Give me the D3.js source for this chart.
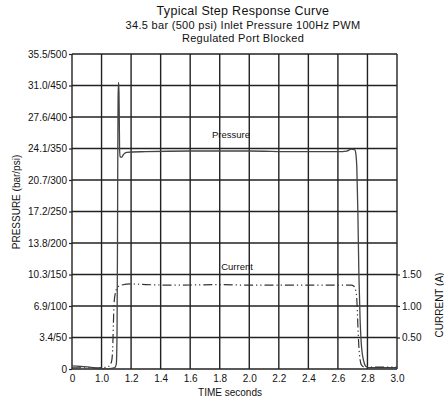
<!DOCTYPE html>
<html>
<head>
<meta charset="utf-8">
<script src="https://cdn.jsdelivr.net/npm/d3@7"></script>
<style>
  body { margin: 0; background: #fff; }
  svg { display: block; font-family: "Liberation Sans", Arial, sans-serif; }
  .tick text { fill: #111; }
</style>
</head>
<body>
<div class="svg__step"></div>
<script>
// axis ticks (x axis is broken: 0 then 1.0 .. 3.0)
const timeTicks = [0, 1.0, 1.2, 1.4, 1.6, 1.8, 2.0, 2.2, 2.4, 2.6, 2.8, 3.0]
const timeLabels = ['0', '1.0', '1.2', '1.4', '1.6', '1.8', '2.0', '2.2', '2.4', '2.6', '2.8', '3.0']
const psiTicks = [0, 50, 100, 150, 200, 250, 300, 350, 400, 450, 500]
const psiLabels = ['0', '3.4/50', '6.9/100', '10.3/150', '13.8/200', '17.2/250', '20.7/300', '24.1/350', '27.6/400', '31.0/450', '35.5/500']
const ampTicks = [0.5, 1.0, 1.5]
const ampLabels = ['0.50', '1.00', '1.50']

// pressure trace (psi)
const pressureTime = [0, 0.3, 0.6, 0.8, 0.95, 1.05, 1.09, 1.1, 1.105, 1.108, 1.11, 1.112, 1.115, 1.118, 1.12, 1.122, 1.126, 1.135, 1.15, 1.17, 1.3, 1.6, 2.0, 2.3, 2.6, 2.66, 2.69, 2.715, 2.72, 2.728, 2.735, 2.742, 2.75, 2.76, 2.775, 2.79, 2.82, 2.9, 3.0]
const pressurePsi = [5, 4, 3, 1, 0.5, 0.5, 2, 8, 60, 200, 350, 430, 455, 440, 400, 350, 337, 336, 341, 344, 345, 346, 346, 345, 345, 346, 349, 348, 344, 320, 250, 150, 80, 35, 12, 4, 2, 2, 2]

// current trace (A)
const currentTime = [0, 0.9, 1.04, 1.055, 1.068, 1.075, 1.08, 1.085, 1.095, 1.11, 1.13, 1.2, 1.3, 1.5, 1.8, 2.0, 2.3, 2.6, 2.69, 2.71, 2.72, 2.728, 2.735, 2.742, 2.75, 2.76, 2.78, 3.0]
const currentAmp = [0.02, 0.02, 0.03, 0.06, 0.12, 0.3, 0.7, 1.05, 1.22, 1.3, 1.33, 1.35, 1.34, 1.33, 1.34, 1.33, 1.33, 1.33, 1.33, 1.31, 1.25, 1.1, 0.7, 0.35, 0.15, 0.06, 0.03, 0.03]

const viewportWidth = 444,
    viewportHeight = 401
const plot = { left: 72, right: 397, top: 54, bottom: 369 }

const svg = d3.select('.svg__step')
    .append('svg')
    .attr('width', viewportWidth)
    .attr('height', viewportHeight)

// scales
const x = d3.scaleLinear()
    .domain([0, 1.0, 3.0])
    .range([plot.left, plot.left + (plot.right - plot.left) / 11, plot.right])

const y = d3.scaleLinear()
    .domain([0, 500])
    .range([plot.bottom, plot.top])

// 0.5 A lines up with every 50 psi
const yAmp = d3.scaleLinear()
    .domain([0, 5])
    .range([plot.bottom, plot.top])

// titles
const titles = [
    { text: 'Typical Step Response Curve', size: 12.5, y: 15 },
    { text: '34.5 bar (500 psi) Inlet Pressure 100Hz PWM', size: 11, y: 29 },
    { text: 'Regulated Port Blocked', size: 11, y: 42 }
]
svg.append('g')
    .selectAll('text')
    .data(titles)
    .enter()
    .append('text')
    .attr('x', 243)
    .attr('y', d => d.y)
    .attr('text-anchor', 'middle')
    .style('font-size', d => d.size + 'px')
    .style('letter-spacing', '0.3px')
    .attr('fill', '#111')
    .text(d => d.text)

// grid
const grid = svg.append('g')
    .attr('stroke', '#222')
    .attr('stroke-width', 1.4)

grid.selectAll('.vline')
    .data(timeTicks)
    .enter()
    .append('line')
    .attr('x1', d => x(d))
    .attr('x2', d => x(d))
    .attr('y1', plot.top)
    .attr('y2', plot.bottom)

grid.selectAll('.hline')
    .data(psiTicks)
    .enter()
    .append('line')
    .attr('x1', plot.left)
    .attr('x2', plot.right)
    .attr('y1', d => y(d))
    .attr('y2', d => y(d))

// axes
const styleAxis = g => {
    g.select('.domain').remove()
    g.selectAll('.tick line').attr('stroke', '#222').attr('stroke-width', 1.2)
    g.selectAll('.tick text').style('font-size', '10px')
}

svg.append('g')
    .attr('transform', `translate(${plot.left},0)`)
    .call(d3.axisLeft(y).tickValues(psiTicks).tickFormat((d, i) => psiLabels[i]).tickSize(3).tickPadding(2))
    .call(styleAxis)

svg.append('g')
    .attr('transform', `translate(0,${plot.bottom})`)
    .call(d3.axisBottom(x).tickValues(timeTicks).tickFormat((d, i) => timeLabels[i]).tickSize(0).tickPadding(6))
    .call(styleAxis)

svg.append('g')
    .attr('transform', `translate(${plot.right},0)`)
    .call(d3.axisRight(yAmp).tickValues(ampTicks).tickFormat((d, i) => ampLabels[i]).tickSize(3).tickPadding(2))
    .call(styleAxis)

// axis titles
svg.append('text')
    .attr('transform', 'translate(20,202) rotate(-90)')
    .attr('text-anchor', 'middle')
    .style('font-size', '10px')
    .attr('fill', '#111')
    .text('PRESSURE (bar/psi)')

svg.append('text')
    .attr('transform', 'translate(443,305) rotate(-90)')
    .attr('text-anchor', 'middle')
    .style('font-size', '10px')
    .attr('fill', '#111')
    .text('CURRENT (A)')

svg.append('text')
    .attr('x', 230)
    .attr('y', 396)
    .attr('text-anchor', 'middle')
    .style('font-size', '10px')
    .attr('fill', '#111')
    .text('TIME  seconds')

// curves
const pressureLine = d3.line()
    .x((d, i) => x(pressureTime[i]))
    .y(d => y(d))
    .curve(d3.curveMonotoneX)

const currentLine = d3.line()
    .x((d, i) => x(currentTime[i]))
    .y(d => yAmp(d))
    .curve(d3.curveMonotoneX)

svg.append('path')
    .datum(pressurePsi)
    .attr('d', pressureLine)
    .attr('fill', 'none')
    .attr('stroke', '#444')
    .attr('stroke-width', 1.3)

svg.append('path')
    .datum(currentAmp)
    .attr('d', currentLine)
    .attr('fill', 'none')
    .attr('stroke', '#333')
    .attr('stroke-width', 1.2)
    .attr('stroke-dasharray', '9,3,1.2,3,1.2,3')

// series labels
svg.append('text')
    .attr('x', 231)
    .attr('y', 138)
    .attr('text-anchor', 'middle')
    .style('font-size', '9.5px')
    .attr('fill', '#111')
    .text('Pressure')

svg.append('text')
    .attr('x', 237)
    .attr('y', 270)
    .attr('text-anchor', 'middle')
    .style('font-size', '9.5px')
    .attr('fill', '#111')
    .text('Current')
</script>
</body>
</html>
